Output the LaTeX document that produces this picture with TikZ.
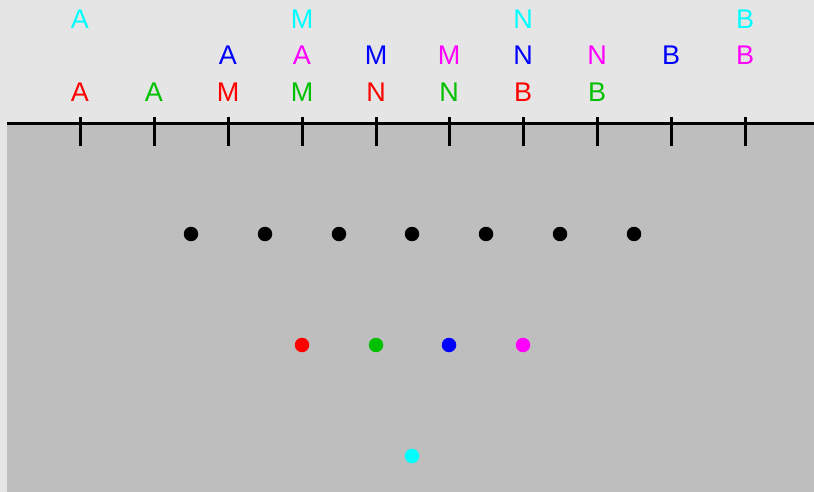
\documentclass[tikz,border=0pt]{standalone}
\usepackage{fontspec}
\setmainfont{Liberation Sans}
\definecolor{bglight}{RGB}{229,229,229}
\definecolor{bgdark}{RGB}{190,190,190}
\definecolor{cred}{RGB}{255,0,0}
\definecolor{cgreen}{RGB}{0,192,0}
\definecolor{cblue}{RGB}{0,0,255}
\definecolor{cmag}{RGB}{255,0,255}
\definecolor{ccyan}{RGB}{0,255,255}
\begin{document}
\begin{tikzpicture}[x=1pt,y=-1pt,
  lbl/.style={anchor=base,inner sep=0pt,font=\fontsize{27}{32}\selectfont},
  dot/.style={circle,inner sep=0pt,minimum size=14.5pt},
  tickline/.style={line width=3pt,black}]
\fill[bglight] (0,0) rectangle (814,492);
\useasboundingbox (0,0) rectangle (814,492);
\fill[bgdark] (7,124) rectangle (814,492);
\coordinate (axl) at (7,124);
\coordinate (axr) at (814,124);
\draw[tickline] (axl) -- (axr);
\foreach \i/\x in {1/80,2/154,3/228,4/302,5/376,6/449,7/523,8/597,9/671,10/745}{
  \coordinate (t\i a) at (\x,117);
  \coordinate (t\i b) at (\x,146);
  \draw[tickline] (t\i a) -- (t\i b);
}
% row 3
\node[lbl,text=cred]   (r3a) at (80,101.5) {A};
\node[lbl,text=cgreen] (r3b) at (154,101.5) {A};
\node[lbl,text=cred]   (r3c) at (228,101.5) {M};
\node[lbl,text=cgreen] (r3d) at (302,101.5) {M};
\node[lbl,text=cred]   (r3e) at (376,101.5) {N};
\node[lbl,text=cgreen] (r3f) at (449,101.5) {N};
\node[lbl,text=cred]   (r3g) at (523,101.5) {B};
\node[lbl,text=cgreen] (r3h) at (597,101.5) {B};
% row 2
\node[lbl,text=cblue] (r2a) at (228,65) {A};
\node[lbl,text=cmag]  (r2b) at (302,65) {A};
\node[lbl,text=cblue] (r2c) at (376,65) {M};
\node[lbl,text=cmag]  (r2d) at (449,65) {M};
\node[lbl,text=cblue] (r2e) at (523,65) {N};
\node[lbl,text=cmag]  (r2f) at (597,65) {N};
\node[lbl,text=cblue] (r2g) at (671,65) {B};
\node[lbl,text=cmag]  (r2h) at (745,65) {B};
% row 1
\node[lbl,text=ccyan] (r1a) at (80,28.5) {A};
\node[lbl,text=ccyan] (r1b) at (302,28.5) {M};
\node[lbl,text=ccyan] (r1c) at (523,28.5) {N};
\node[lbl,text=ccyan] (r1d) at (745,28.5) {B};
% black dots
\foreach \i/\x in {1/191,2/265,3/339,4/412,5/486,6/560,7/634}{
  \node[dot,fill=black] (k\i) at (\x,234) {};
}
% coloured dots
\node[dot,fill=cred]   (d1) at (302,345) {};
\node[dot,fill=cgreen] (d2) at (376,345) {};
\node[dot,fill=cblue]  (d3) at (449,345) {};
\node[dot,fill=cmag]   (d4) at (523,345) {};
\node[dot,fill=ccyan]  (d5) at (412,456) {};
\end{tikzpicture}
\end{document}
